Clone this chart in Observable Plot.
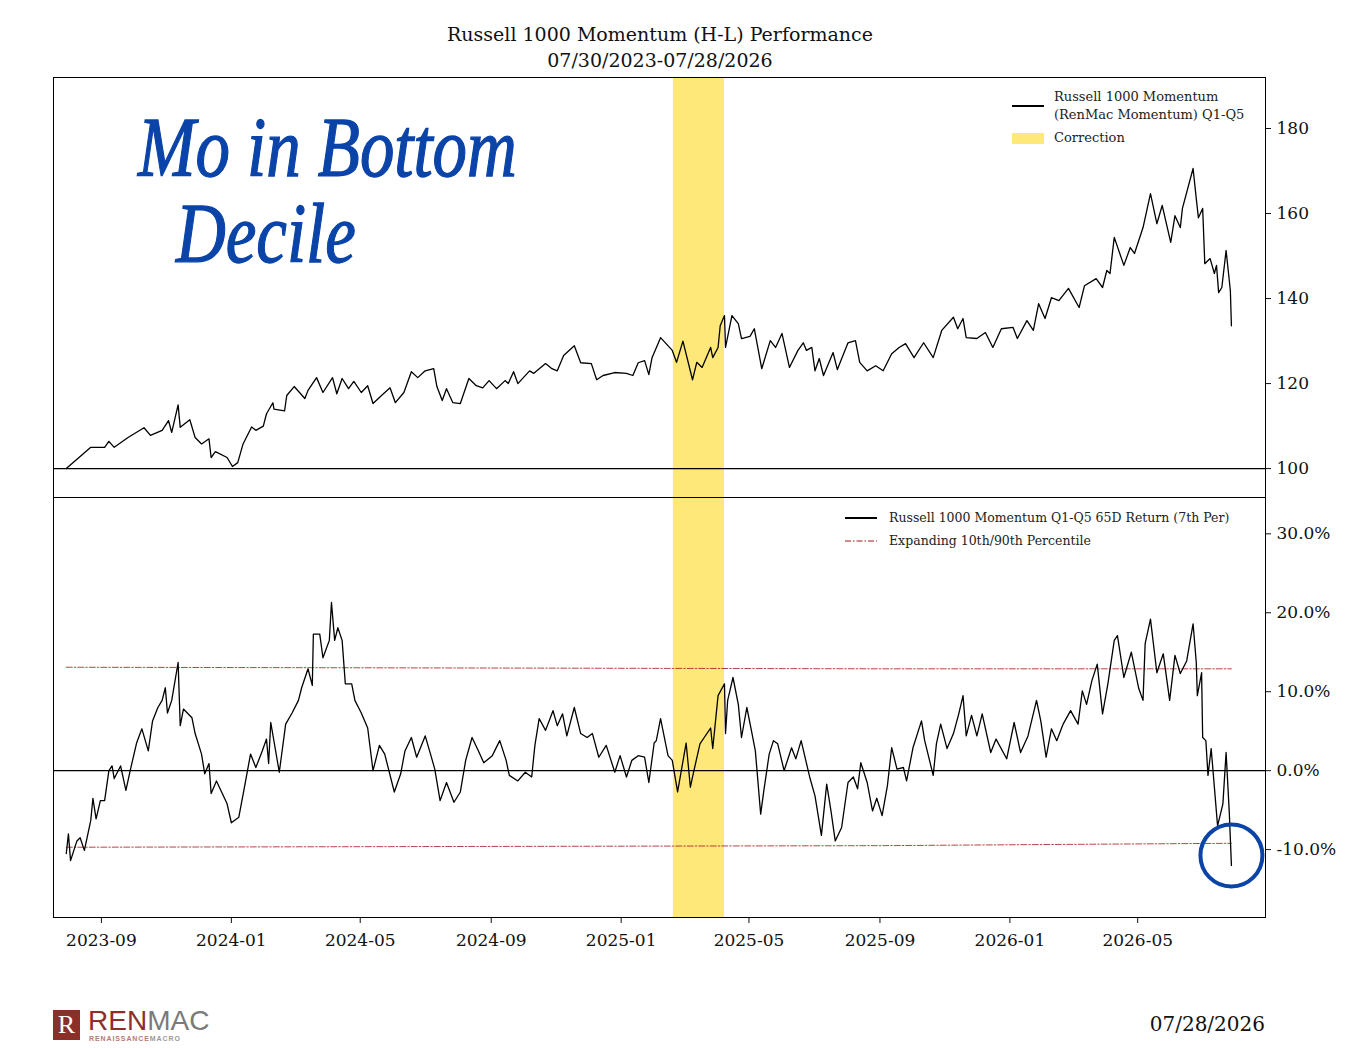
<!DOCTYPE html>
<html>
<head>
<meta charset="utf-8">
<script src="https://cdn.jsdelivr.net/npm/d3@7"></script>
<script src="https://cdn.jsdelivr.net/npm/@observablehq/plot@0.6"></script>
<style>
  body { margin: 0; background: #fff; }
  #root { position: relative; width: 1345px; height: 1048px; font-family: "DejaVu Serif", serif; color: #111; overflow: hidden; }
  .abs { position: absolute; }
  svg { overflow: visible; }
  .leg { font-size: 13px; line-height: 18px; color: #222; white-space: nowrap; }
  .hand { font-family: "Liberation Serif", serif; font-style: italic; font-weight: normal; font-size: 84px; line-height: 76px; color: #0a44a8; transform: scaleX(0.82); transform-origin: left top; -webkit-text-stroke: 1.3px #0a44a8; white-space: nowrap; }
</style>
</head>
<body>
<div id="root">
  <div class="abs" style="left:0;width:1320px;top:21px;text-align:center;font-size:19px;line-height:26px;">
    Russell 1000 Momentum (H-L) Performance<br>07/30/2023-07/28/2026
  </div>
  <div id="top" class="abs" style="left:0;top:77px;"></div>
  <div id="bot" class="abs" style="left:0;top:497px;"></div>

  <!-- top legend -->
  <svg class="abs" style="left:1012px;top:100px" width="34" height="46">
    <line x1="0" x2="32" y1="6" y2="6" stroke="#000" stroke-width="2"/>
    <rect x="0" y="33" width="32" height="11" fill="#fee87a"/>
  </svg>
  <div class="abs leg" style="left:1054px;top:88px;">Russell 1000 Momentum<br>(RenMac Momentum) Q1-Q5</div>
  <div class="abs leg" style="left:1054px;top:129px;">Correction</div>

  <!-- bottom legend -->
  <svg class="abs" style="left:845px;top:512px" width="34" height="34">
    <line x1="0" x2="32" y1="6" y2="6" stroke="#000" stroke-width="2"/>
    <line x1="0" x2="32" y1="29" y2="29" stroke="#a01818" stroke-width="1.2" stroke-dasharray="6,2,1.5,2"/>
  </svg>
  <div class="abs leg" style="left:889px;top:509px;font-size:12.5px;">Russell 1000 Momentum Q1-Q5 65D Return (7th Per)</div>
  <div class="abs leg" style="left:889px;top:532px;font-size:12.5px;">Expanding 10th/90th Percentile</div>

  <!-- handwritten note -->
  <div class="abs hand" style="left:138px;top:110px;">Mo in Bottom</div>
  <div class="abs hand" style="left:176px;top:196px;">Decile</div>

  <!-- footer -->
  <div class="abs" style="left:53px;top:1010px;width:27px;height:30px;background:#8c2f28;color:#fff;font-family:'Liberation Serif',serif;font-size:26px;line-height:30px;text-align:center;">R</div>
  <div class="abs" style="left:88px;top:1009px;font-family:'Liberation Sans',sans-serif;font-size:28px;line-height:24px;"><span style="color:#8c2f28">REN</span><span style="color:#7a7a7a">MAC</span></div>
  <div class="abs" style="left:89px;top:1035px;font-family:'Liberation Sans',sans-serif;font-size:7px;line-height:7px;font-weight:bold;letter-spacing:0.9px;"><span style="color:#b57a74">RENAISSANCE</span><span style="color:#9a9a9a">MACRO</span></div>
  <div class="abs" style="right:80px;top:1012px;font-size:20px;line-height:24px;">07/28/2026</div>
</div>
<script>
// ---------- data ----------
const momentumIndex = [
["2023-07-30",100],["2023-08-15",103.5],["2023-08-22",105],["2023-09-04",105],["2023-09-08",106.4],["2023-09-13",105],
["2023-09-26",107.3],["2023-10-11",109.6],["2023-10-17",107.8],["2023-10-28",109],["2023-11-03",111.3],["2023-11-06",108.5],
["2023-11-12",115],["2023-11-14",109.7],["2023-11-23",111.5],["2023-11-28",107.3],["2023-12-04",105.8],["2023-12-11",107],
["2023-12-13",102.6],["2023-12-17",104],["2023-12-28",102.6],["2024-01-02",100.5],["2024-01-07",101.4],["2024-01-12",105.8],
["2024-01-20",109.8],["2024-01-24",109],["2024-01-31",110],["2024-02-03",112.9],["2024-02-09",115.5],["2024-02-10",114],
["2024-02-20",113.6],["2024-02-22",117.2],["2024-02-29",119.3],["2024-03-10",116.5],["2024-03-13",118.4],["2024-03-21",121.4],
["2024-03-27",117.9],["2024-04-05",121.4],["2024-04-09",117.6],["2024-04-14",121.2],["2024-04-20",118.8],["2024-04-25",120.5],
["2024-05-02",117.9],["2024-05-08",119.5],["2024-05-13",115.3],["2024-05-21",117.2],["2024-05-29",119],["2024-06-03",115.5],
["2024-06-11",117.9],["2024-06-18",122.8],["2024-06-24",121.4],["2024-07-01",123],["2024-07-09",123.5],["2024-07-12",119.3],
["2024-07-17",116],["2024-07-21",118.8],["2024-07-27",115.5],["2024-08-03",115.3],["2024-08-11",121.2],["2024-08-18",119.5],
["2024-08-24",119],["2024-08-30",120.7],["2024-09-06",118.8],["2024-09-14",120.7],["2024-09-17",120],["2024-09-22",122.8],
["2024-09-26",120],["2024-10-07",123],["2024-10-11",122.4],["2024-10-22",124.7],["2024-10-28",123.5],["2024-11-02",123],
["2024-11-08",126.6],["2024-11-18",128.9],["2024-11-24",124.9],["2024-12-04",124.7],["2024-12-09",120.9],["2024-12-15",121.9],
["2024-12-26",122.6],["2025-01-06",122.4],["2025-01-12",121.9],["2025-01-17",124.9],["2025-01-23",125.4],["2025-01-27",122.1],
["2025-01-30",126.1],["2025-02-07",130.8],["2025-02-18",127.8],["2025-02-22",125],["2025-02-28",130],["2025-03-09",120.9],
["2025-03-13",125],["2025-03-18",123.8],["2025-03-26",128.5],["2025-03-28",126.1],["2025-04-02",128.5],["2025-04-04",133.6],
["2025-04-08",136],["2025-04-09",128.5],["2025-04-15",136],["2025-04-21",134.1],["2025-04-24",130.6],["2025-05-02",131.1],
["2025-05-06",132.9],["2025-05-13",123.5],["2025-05-21",130.1],["2025-05-26",128.5],["2025-06-01",131.8],["2025-06-08",123.8],
["2025-06-16",127.8],["2025-06-21",129.6],["2025-06-24",127.8],["2025-06-29",128.5],["2025-07-02",123],["2025-07-06",125.9],
["2025-07-10",121.9],["2025-07-19",127.3],["2025-07-23",123.3],["2025-08-02",129.6],["2025-08-09",130.1],["2025-08-13",125],
["2025-08-20",123],["2025-08-28",124.2],["2025-09-04",123],["2025-09-12",127],["2025-09-19",128.5],["2025-09-25",129.4],
["2025-10-03",126.1],["2025-10-12",129.6],["2025-10-21",126.1],["2025-10-29",132.5],["2025-11-09",135.6],["2025-11-13",132.9],
["2025-11-18",135.3],["2025-11-21",130.8],["2025-12-01",130.6],["2025-12-09",132],["2025-12-16",128.5],["2025-12-24",132.9],
["2026-01-04",133.2],["2026-01-08",130.6],["2026-01-17",134.8],["2026-01-23",132.5],["2026-01-28",138.8],["2026-02-03",135.3],
["2026-02-09",140.2],["2026-02-16",139.5],["2026-02-25",142.4],["2026-03-07",137.9],["2026-03-12",143],["2026-03-23",144.7],
["2026-03-29",142.6],["2026-04-02",146.6],["2026-04-05",145.9],["2026-04-09",154.4],["2026-04-18",147.8],["2026-04-24",152],
["2026-04-28",150.6],["2026-05-06",156.7],["2026-05-13",164.7],["2026-05-19",157.6],["2026-05-24",161.9],["2026-06-01",153.2],
["2026-06-05",159.5],["2026-06-10",156.7],["2026-06-12",161.2],["2026-06-22",170.6],["2026-06-25",163.5],["2026-06-27",159],
["2026-07-01",161.2],["2026-07-03",148.2],["2026-07-08",149.4],["2026-07-12",145.9],["2026-07-14",147.8],["2026-07-16",141.4],
["2026-07-19",142.6],["2026-07-23",151.3],["2026-07-27",141.9],["2026-07-28",133.6]
];

const return65d = [
["2023-07-30",-10.5],["2023-08-01",-8.0],["2023-08-03",-11.4],["2023-08-09",-8.9],["2023-08-12",-8.5],["2023-08-16",-10.1],
["2023-08-22",-6.3],["2023-08-24",-3.5],["2023-08-27",-6.1],["2023-08-31",-3.8],["2023-09-04",-3.8],["2023-09-08",0],
["2023-09-11",0.6],["2023-09-13",-1.0],["2023-09-19",0.6],["2023-09-24",-2.5],["2023-09-28",0],["2023-10-04",3.5],
["2023-10-09",5.3],["2023-10-15",2.5],["2023-10-19",6.3],["2023-10-24",8.0],["2023-10-28",8.9],["2023-10-31",10.5],
["2023-11-02",7.3],["2023-11-06",8.9],["2023-11-12",13.7],["2023-11-14",5.7],["2023-11-17",7.8],["2023-11-25",6.7],
["2023-11-28",4.7],["2023-12-04",2.1],["2023-12-07",-0.4],["2023-12-11",0.9],["2023-12-13",-2.9],["2023-12-18",-1.3],
["2023-12-28",-4.2],["2024-01-01",-6.6],["2024-01-08",-5.9],["2024-01-13",-2.3],["2024-01-19",2.1],["2024-01-24",0.4],
["2024-01-30",2.5],["2024-02-03",4.0],["2024-02-05",0.9],["2024-02-07",6.1],["2024-02-15",-0.2],["2024-02-21",5.9],
["2024-02-27",7.3],["2024-03-04",8.9],["2024-03-07",10.5],["2024-03-13",12.9],["2024-03-17",10.8],["2024-03-18",17.3],
["2024-03-24",17.3],["2024-03-27",14.3],["2024-04-02",16.5],["2024-04-04",21.3],["2024-04-07",16.5],["2024-04-10",18.1],
["2024-04-14",16.5],["2024-04-17",11.0],["2024-04-23",11.0],["2024-04-26",8.9],["2024-05-02",7.3],["2024-05-08",5.4],
["2024-05-13",0],["2024-05-19",3.2],["2024-05-24",2.1],["2024-06-02",-2.7],["2024-06-08",-0.4],["2024-06-12",2.5],
["2024-06-18",4.2],["2024-06-23",1.7],["2024-07-01",4.4],["2024-07-06",2.1],["2024-07-10",0.2],["2024-07-15",-3.8],
["2024-07-21",-1.5],["2024-07-28",-4.0],["2024-08-03",-2.7],["2024-08-08",1.3],["2024-08-14",4.2],["2024-08-20",2.5],
["2024-08-25",1.0],["2024-09-02",1.9],["2024-09-09",3.8],["2024-09-15",1.3],["2024-09-18",-0.6],["2024-09-26",-1.3],
["2024-10-03",-0.2],["2024-10-09",-0.8],["2024-10-12",3.2],["2024-10-16",6.6],["2024-10-22",5.1],["2024-10-29",7.6],
["2024-11-02",5.7],["2024-11-07",7.2],["2024-11-11",4.4],["2024-11-18",8.0],["2024-11-24",4.7],["2024-11-30",4.2],
["2024-12-05",4.7],["2024-12-11",1.7],["2024-12-18",3.2],["2024-12-26",-0.2],["2024-12-31",1.9],["2025-01-06",-0.8],
["2025-01-11",1.3],["2025-01-17",1.9],["2025-01-23",1.7],["2025-01-27",-1.5],["2025-02-01",3.5],["2025-02-03",3.8],
["2025-02-07",6.6],["2025-02-14",1.9],["2025-02-18",1.3],["2025-02-23",-2.7],["2025-03-03",3.5],["2025-03-07",-2.1],
["2025-03-10",-0.2],["2025-03-16",3.4],["2025-03-20",4.2],["2025-03-26",5.4],["2025-03-28",2.8],["2025-04-02",9.5],
["2025-04-08",11.0],["2025-04-09",4.7],["2025-04-11",8.9],["2025-04-16",11.8],["2025-04-21",8.4],["2025-04-24",4.2],
["2025-04-29",8.0],["2025-05-03",5.3],["2025-05-07",2.5],["2025-05-12",-5.5],["2025-05-15",-2.5],["2025-05-20",2.1],
["2025-05-24",3.8],["2025-05-28",3.4],["2025-06-03",0],["2025-06-10",2.9],["2025-06-14",1.5],["2025-06-19",3.8],
["2025-06-27",-0.8],["2025-07-02",-3.2],["2025-07-08",-8.2],["2025-07-13",-1.7],["2025-07-17",-5.1],["2025-07-21",-8.9],
["2025-07-27",-7.2],["2025-08-02",-1.5],["2025-08-07",-0.8],["2025-08-11",-2.3],["2025-08-14",1.0],["2025-08-20",-1.5],
["2025-08-25",-5.1],["2025-08-29",-3.5],["2025-09-03",-5.7],["2025-09-08",-1.9],["2025-09-12",2.9],["2025-09-17",0.2],
["2025-09-23",0.4],["2025-09-26",-1.3],["2025-10-02",2.9],["2025-10-10",6.3],["2025-10-13",3.8],["2025-10-21",-0.6],
["2025-10-24",3.4],["2025-10-28",5.9],["2025-11-03",2.8],["2025-11-09",4.7],["2025-11-14",7.2],["2025-11-18",9.5],
["2025-11-21",4.4],["2025-11-26",7.0],["2025-12-01",4.4],["2025-12-06",7.2],["2025-12-14",2.3],["2025-12-19",4.0],
["2025-12-29",1.5],["2026-01-05",6.1],["2026-01-11",2.3],["2026-01-18",4.4],["2026-01-26",8.9],["2026-01-30",6.3],
["2026-02-04",1.7],["2026-02-09",5.3],["2026-02-14",3.8],["2026-02-20",5.9],["2026-02-27",7.6],["2026-03-06",5.9],
["2026-03-10",10.1],["2026-03-14",8.4],["2026-03-19",11.4],["2026-03-24",13.5],["2026-03-29",7.2],["2026-04-03",11.0],
["2026-04-09",16.5],["2026-04-12",17.1],["2026-04-18",11.8],["2026-04-25",15.0],["2026-05-02",10.4],["2026-05-06",8.9],
["2026-05-08",16.1],["2026-05-13",19.2],["2026-05-19",12.4],["2026-05-25",14.8],["2026-05-31",8.9],["2026-06-05",14.6],
["2026-06-10",12.3],["2026-06-16",13.9],["2026-06-22",18.6],["2026-06-25",13.7],["2026-06-26",9.5],["2026-06-30",12.4],
["2026-07-01",4.2],["2026-07-04",3.8],["2026-07-06",-0.6],["2026-07-09",2.8],["2026-07-15",-7.0],["2026-07-20",-4.2],
["2026-07-23",2.3],["2026-07-26",-5.3],["2026-07-28",-12.0]
];

const pct90 = [["2023-07-30",13.1],["2024-09-01",13.0],["2025-09-01",12.9],["2026-07-28",12.9]];
const pct10 = [["2023-07-30",-9.7],["2024-09-01",-9.6],["2025-09-01",-9.5],["2026-07-28",-9.2]];

const correction = [["2025-02-19","2025-04-08"]];

const topTicks = [100, 120, 140, 160, 180];
const botTicks = [-10, 0, 10, 20, 30];
const xTickLabels = ["2023-09","2024-01","2024-05","2024-09","2025-01","2025-05","2025-09","2026-01","2026-05"];
const xDomain = ["2023-07-18","2026-08-29"];
const topDomain = [93.2, 192];
const botDomain = [-18.6, 34.6];

// ---------- build ----------
const P = d => new Date(d + (d.length === 7 ? "-01" : "") + "T00:00:00Z");
const toRows = arr => arr.map(([d, v]) => ({date: P(d), value: v}));
const topRows = toRows(momentumIndex);
const botRows = toRows(return65d);
const p90Rows = toRows(pct90);
const p10Rows = toRows(pct10);
const bandRows = correction.map(([a, b]) => ({x1: P(a), x2: P(b)}));
const lastPoint = botRows[botRows.length - 1];

const W = 1345, ML = 53, MR = 80;
const style = {fontFamily: "DejaVu Serif, serif", fontSize: "17px", color: "#111", background: "transparent", overflow: "visible"};
const xBase = {type: "utc", domain: xDomain.map(P)};

const topPlot = Plot.plot({
  width: W, height: 420, marginLeft: ML, marginRight: MR, marginTop: 0, marginBottom: 0,
  style,
  x: {...xBase, axis: null},
  y: {domain: topDomain, axis: "right", ticks: topTicks, tickSize: 5, tickPadding: 6, label: null},
  marks: [
    Plot.rect(bandRows, {x1: "x1", x2: "x2", fill: "#fee87a"}),
    Plot.ruleY([100], {stroke: "#000", strokeWidth: 1.1}),
    Plot.line(topRows, {x: "date", y: "value", stroke: "#000", strokeWidth: 1.3}),
    Plot.frame({stroke: "#000", strokeWidth: 1})
  ]
});
document.getElementById("top").appendChild(topPlot);

const botPlot = Plot.plot({
  width: W, height: 470, marginLeft: ML, marginRight: MR, marginTop: 0, marginBottom: 50,
  style,
  x: {...xBase, ticks: xTickLabels.map(P), tickFormat: d3.utcFormat("%Y-%m"), tickSize: 6, tickPadding: 10, label: null},
  y: {domain: botDomain, axis: "right", ticks: botTicks, tickFormat: d => d.toFixed(1) + "%", tickSize: 5, tickPadding: 6, label: null},
  marks: [
    Plot.rect(bandRows, {x1: "x1", x2: "x2", fill: "#fee87a"}),
    Plot.ruleY([0], {stroke: "#000", strokeWidth: 1.1}),
    Plot.line(p90Rows, {x: "date", y: "value", stroke: "#a01818", strokeWidth: 1, strokeDasharray: "6,2,1.5,2", strokeOpacity: 0.8}),
    Plot.line(p10Rows, {x: "date", y: "value", stroke: "#a01818", strokeWidth: 1, strokeDasharray: "6,2,1.5,2", strokeOpacity: 0.8}),
    Plot.line(botRows, {x: "date", y: "value", stroke: "#000", strokeWidth: 1.3}),
    Plot.dot([lastPoint], {x: "date", y: "value", r: 31, dy: -10, stroke: "#0a44a8", strokeWidth: 4, fill: "none"}),
    Plot.frame({stroke: "#000", strokeWidth: 1})
  ]
});
document.getElementById("bot").appendChild(botPlot);
</script>
</body>
</html>
